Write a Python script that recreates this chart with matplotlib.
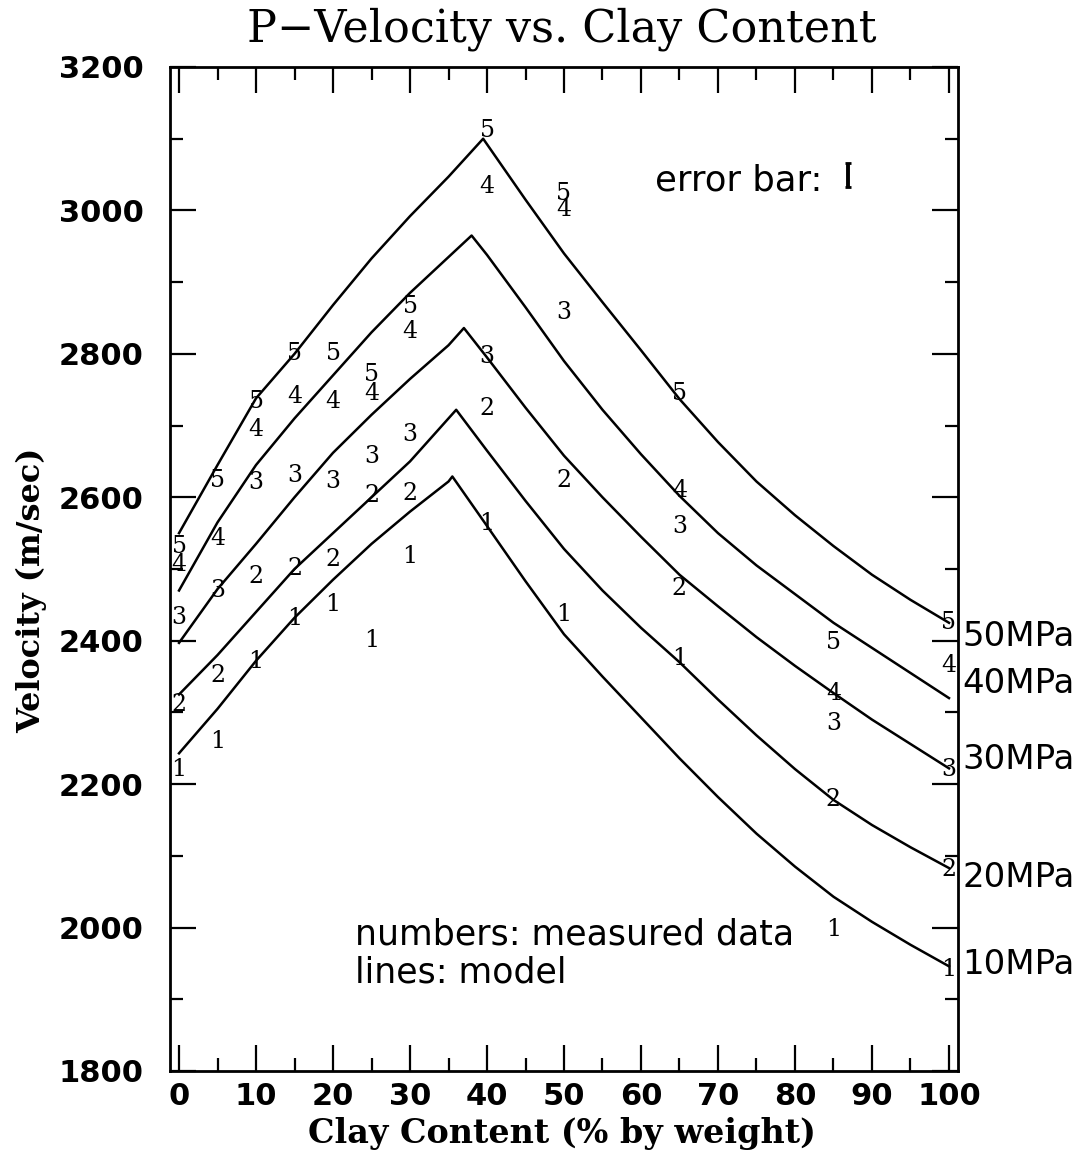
import matplotlib
matplotlib.use("Agg")
import matplotlib.pyplot as plt
from matplotlib.ticker import MultipleLocator

# ---------------- data ----------------
pressures = ["10MPa", "20MPa", "30MPa", "40MPa", "50MPa"]
point_labels = ["1", "2", "3", "4", "5"]

# model curves (clay %, velocity m/s)
x_10 = [0, 5, 10, 15, 20, 25, 30, 35, 35.5, 40, 45, 50, 55, 60, 65, 70, 75, 80, 85, 90, 95, 100]
v_10 = [2243, 2305, 2372, 2432, 2485, 2535, 2580, 2622, 2629, 2560, 2483, 2409, 2350, 2293, 2236, 2182, 2131, 2085, 2043, 2008, 1976, 1946]

x_20 = [0, 5, 10, 15, 20, 25, 30, 35, 36, 40, 45, 50, 55, 60, 65, 70, 75, 80, 85, 90, 95, 100]
v_20 = [2325, 2380, 2440, 2500, 2550, 2600, 2650, 2710, 2722, 2665, 2595, 2528, 2470, 2418, 2370, 2318, 2268, 2221, 2178, 2143, 2112, 2083]

x_30 = [0, 5, 10, 15, 20, 25, 30, 35, 37, 40, 45, 50, 55, 60, 65, 70, 75, 80, 85, 90, 95, 100]
v_30 = [2397, 2472, 2535, 2600, 2662, 2715, 2765, 2812, 2836, 2795, 2725, 2658, 2600, 2545, 2492, 2448, 2405, 2365, 2327, 2290, 2256, 2222]

x_40 = [0, 5, 10, 15, 20, 25, 30, 35, 38, 40, 45, 50, 55, 60, 65, 70, 75, 80, 85, 90, 95, 100]
v_40 = [2470, 2565, 2645, 2710, 2770, 2830, 2885, 2935, 2965, 2938, 2865, 2790, 2722, 2660, 2602, 2550, 2505, 2465, 2425, 2390, 2355, 2320]

x_50 = [0, 5, 10, 15, 20, 25, 30, 35, 39.5, 45, 50, 55, 60, 65, 70, 75, 80, 85, 90, 95, 100]
v_50 = [2550, 2645, 2738, 2800, 2868, 2933, 2992, 3047, 3100, 3015, 2940, 2872, 2805, 2737, 2677, 2622, 2575, 2532, 2492, 2457, 2425]

# measured data
meas_x = [0, 5, 10, 15, 20, 25, 30, 40, 50, 65, 85, 100]
meas_10 = [2220, 2259, 2371, 2431, 2450, 2400, 2518, 2564, 2436, 2375, 1997, 1941]
meas_20 = [2311, 2352, 2490, 2501, 2513, 2602, 2605, 2724, 2624, 2473, 2178, 2081]
meas_30 = [2433, 2470, 2620, 2631, 2622, 2657, 2688, 2796, 2858, 2559, 2285, 2220]
meas_40 = [2506, 2543, 2694, 2740, 2734, 2745, 2831, 3033, 3001, 2610, 2327, 2366]
meas_50 = [2531, 2624, 2733, 2801, 2801, 2771, 2866, 3112, 3024, 2745, 2397, 2425]

# right-hand pressure label heights
label_y = [1949, 2070, 2234, 2341, 2406]

# error bar example
err_x, err_y, err_half = 86.9, 3049, 17

model_x = [x_10, x_20, x_30, x_40, x_50]
model_v = [v_10, v_20, v_30, v_40, v_50]
meas_v = [meas_10, meas_20, meas_30, meas_40, meas_50]

# ---------------- figure ----------------
W, H = 1081, 1152
fig = plt.figure(figsize=(W / 100, H / 100), dpi=100)
ax = fig.add_axes([170 / W, 1 - 1071 / H, (958 - 170) / W, (1071 - 67) / H])

for xs, vs in zip(model_x, model_v):
    ax.plot(xs, vs, color="black", lw=1.8, solid_joinstyle="round")

for lab, vs in zip(point_labels, meas_v):
    for xv, yv in zip(meas_x, vs):
        ax.text(xv, yv, lab, ha="center", va="center", fontsize=17,
                family="DejaVu Serif", color="black")

for name, yv in zip(pressures, label_y):
    ax.text(101.7, yv, name, ha="left", va="center", fontsize=24.5,
            family="DejaVu Sans", color="black", clip_on=False)

ax.text(61.8, 3028, "error bar:", ha="left", va="baseline", fontsize=25.5,
        family="DejaVu Sans")
ax.errorbar([err_x], [err_y], yerr=[err_half], fmt="none", ecolor="black",
            elinewidth=2.8, capsize=2.5, capthick=2)

ax.text(22.9, 1976, "numbers: measured data", ha="left", va="baseline",
        fontsize=25, family="DejaVu Sans")
ax.text(22.9, 1924, "lines: model", ha="left", va="baseline",
        fontsize=25, family="DejaVu Sans")

ax.set_xlim(-1.17, 101.17)
ax.set_ylim(1800, 3200)
ax.xaxis.set_major_locator(MultipleLocator(10))
ax.xaxis.set_minor_locator(MultipleLocator(5))
ax.yaxis.set_major_locator(MultipleLocator(200))
ax.yaxis.set_minor_locator(MultipleLocator(100))
ax.tick_params(which="both", direction="in", top=True, right=True,
               width=1.6, color="black")
ax.tick_params(which="major", length=19)
ax.tick_params(which="minor", length=9.5)
ax.tick_params(axis="y", which="major", pad=19)
ax.tick_params(axis="x", which="major", pad=8)
for lbl in ax.get_xticklabels() + ax.get_yticklabels():
    lbl.set_fontfamily("DejaVu Sans")
    lbl.set_fontweight("bold")
    lbl.set_fontsize(22)
for sp in ax.spines.values():
    sp.set_linewidth(2)

fig.text(562 / W, 1 - 29 / H, "P\u2212Velocity vs. Clay Content", ha="center",
         va="center", fontsize=32, family="DejaVu Serif")
fig.text(562 / W, 1 - 1133 / H, "Clay Content (% by weight)", ha="center",
         va="center", fontsize=24, family="DejaVu Serif", fontweight="bold")
fig.text(32 / W, 1 - 590 / H, "Velocity (m/sec)", ha="center", va="center",
         rotation=90, fontsize=23, family="DejaVu Serif", fontweight="bold")

fig.savefig("out.png", dpi=100, facecolor="white")
